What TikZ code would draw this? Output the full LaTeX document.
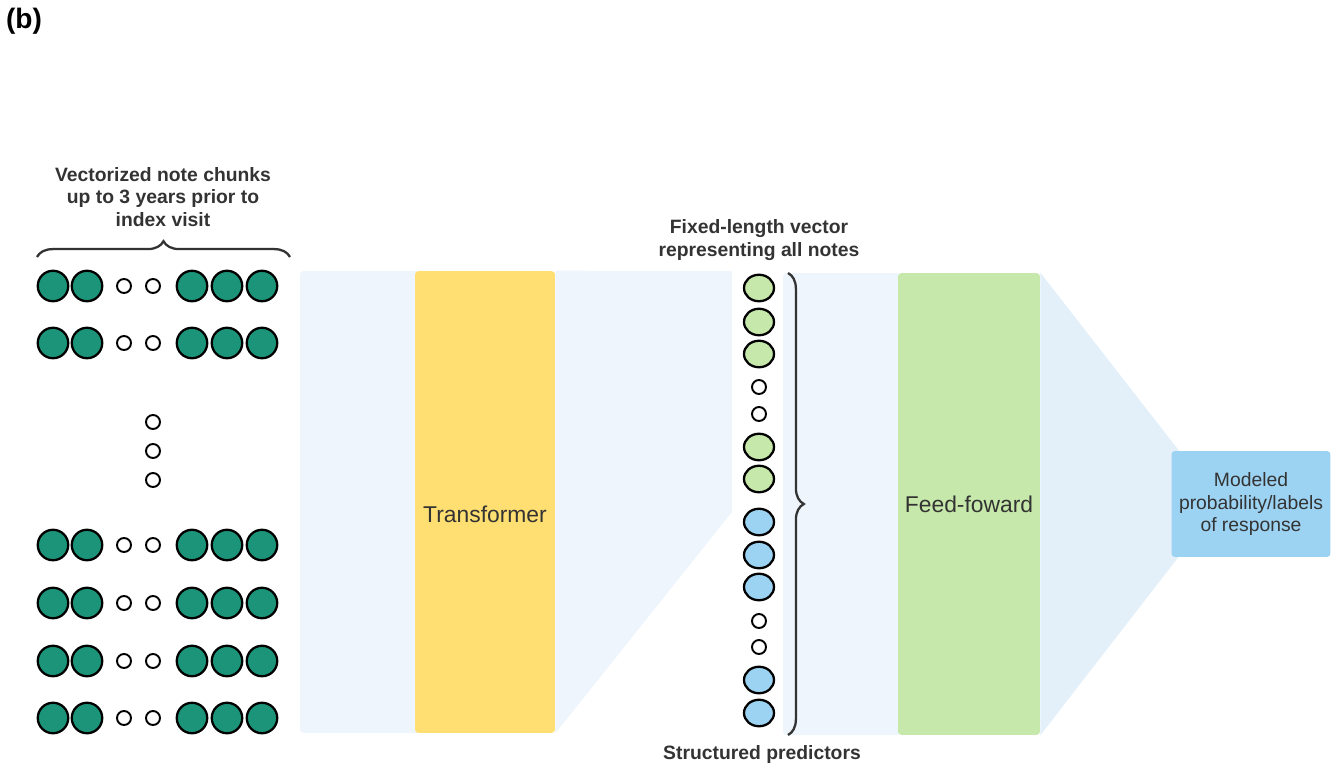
\documentclass[tikz,border=0pt]{standalone}
\usepackage{fontspec}
\setmainfont{Liberation Sans}
\usetikzlibrary{decorations.pathreplacing,shapes.geometric}
\definecolor{noteteal}{HTML}{1B9479}
\definecolor{vecgreen}{HTML}{C6E8AA}
\definecolor{vecblue}{HTML}{9DD3F2}
\definecolor{transyellow}{HTML}{FFDF72}
\definecolor{panelblue}{HTML}{EEF5FC}
\definecolor{funnelblue}{HTML}{E3F0FA}
\definecolor{inktext}{HTML}{333333}
\tikzset{
  bigdot/.style={circle,draw,line width=1.3pt,minimum size=0.61cm,inner sep=0pt,fill=noteteal},
  smalldot/.style={circle,draw,line width=1.1pt,minimum size=0.28cm,inner sep=0pt,fill=white},
  vecdot/.style={ellipse,draw,line width=1.3pt,minimum width=0.6cm,minimum height=0.53cm,inner sep=0pt},
  block/.style={rounded corners=2pt,inner sep=0pt,text=inktext,font=\fontsize{13}{15}\selectfont},
  heading/.style={align=center,text=inktext,font=\bfseries\fontsize{11}{13}\selectfont},
  bracepath/.style={decorate,decoration={brace,amplitude=9pt},line width=1.3pt,draw=inktext}
}
\begin{document}
\begin{tikzpicture}[x=0.02cm,y=-0.02cm]
        \useasboundingbox (0,0) rectangle (1339,767);
        \node[font=\bfseries\fontsize{16}{18}\selectfont] (tag) at (24,21) {(b)};
        % background panels
        \fill[panelblue,rounded corners=2pt] (300,271) rectangle (420,733);
        \fill[panelblue,rounded corners=2pt] (783,273) rectangle (900,735);
        \node[block,fill=transyellow,minimum width=2.8cm,minimum height=9.24cm] (trans) at (485,502) {};
        \node[block] (translabel) at ([yshift=-0.24cm]trans.center) {Transformer};
        \node[block,fill=vecgreen,minimum width=2.84cm,minimum height=9.24cm] (ff) at (969,504) {Feed-foward};
        \coordinate (ctop) at (732,271);
        \coordinate (cmid) at (732,512);
        \coordinate (otop) at (1180,452);
        \coordinate (obot) at (1180,555);
        \fill[panelblue] (trans.north east)--(ctop)--(cmid)--(trans.south east)--cycle;
        \fill[funnelblue] (ff.north east)--(otop)--(obot)--(ff.south east)--cycle;
        \fill[white] (ctop) rectangle (783,733);
        \node[block,fill=vecblue,minimum width=3.18cm,minimum height=2.12cm,align=center,font=\fontsize{11}{13}\selectfont] (out) at (1251,504) {Modeled\\probability/labels\\of response};
        % note chunks
        \foreach \r/\y in {1/286,2/343,3/545,4/603,5/661,6/718}{
          \foreach \c/\x in {1/53,2/87,5/192,6/227,7/262}
            \node[bigdot] (n\r-\c) at (\x,\y) {};
          \foreach \c/\x in {3/124,4/153}
            \node[smalldot] (n\r-\c) at (\x,\y) {};
        }
        \foreach \i/\y in {1/422,2/451,3/480}
          \node[smalldot] (vd\i) at (153,\y) {};
        \draw[bracepath] (37,257)--(290,257);
        \node[heading] (notes) at (163,197) {Vectorized note chunks\\up to 3 years prior to\\index visit};
        % fixed-length vector
        \foreach \i/\y in {1/288,2/322,3/354,6/447,7/479}
          \node[vecdot,fill=vecgreen] (v\i) at (759,\y) {};
        \foreach \i/\y in {8/522,9/555,10/587,13/680,14/713}
          \node[vecdot,fill=vecblue] (v\i) at (759,\y) {};
        \foreach \i/\y in {4/387,5/414,11/621,12/647}
          \node[smalldot] (v\i) at (759,\y) {};
        \draw[bracepath] (788,273)--(788,735);
        \node[heading] (fixed) at (759,240) {Fixed-length vector\\representing all notes};
        \node[heading] (struct) at (762,754) {Structured predictors};
    \end{tikzpicture}
\end{document}
